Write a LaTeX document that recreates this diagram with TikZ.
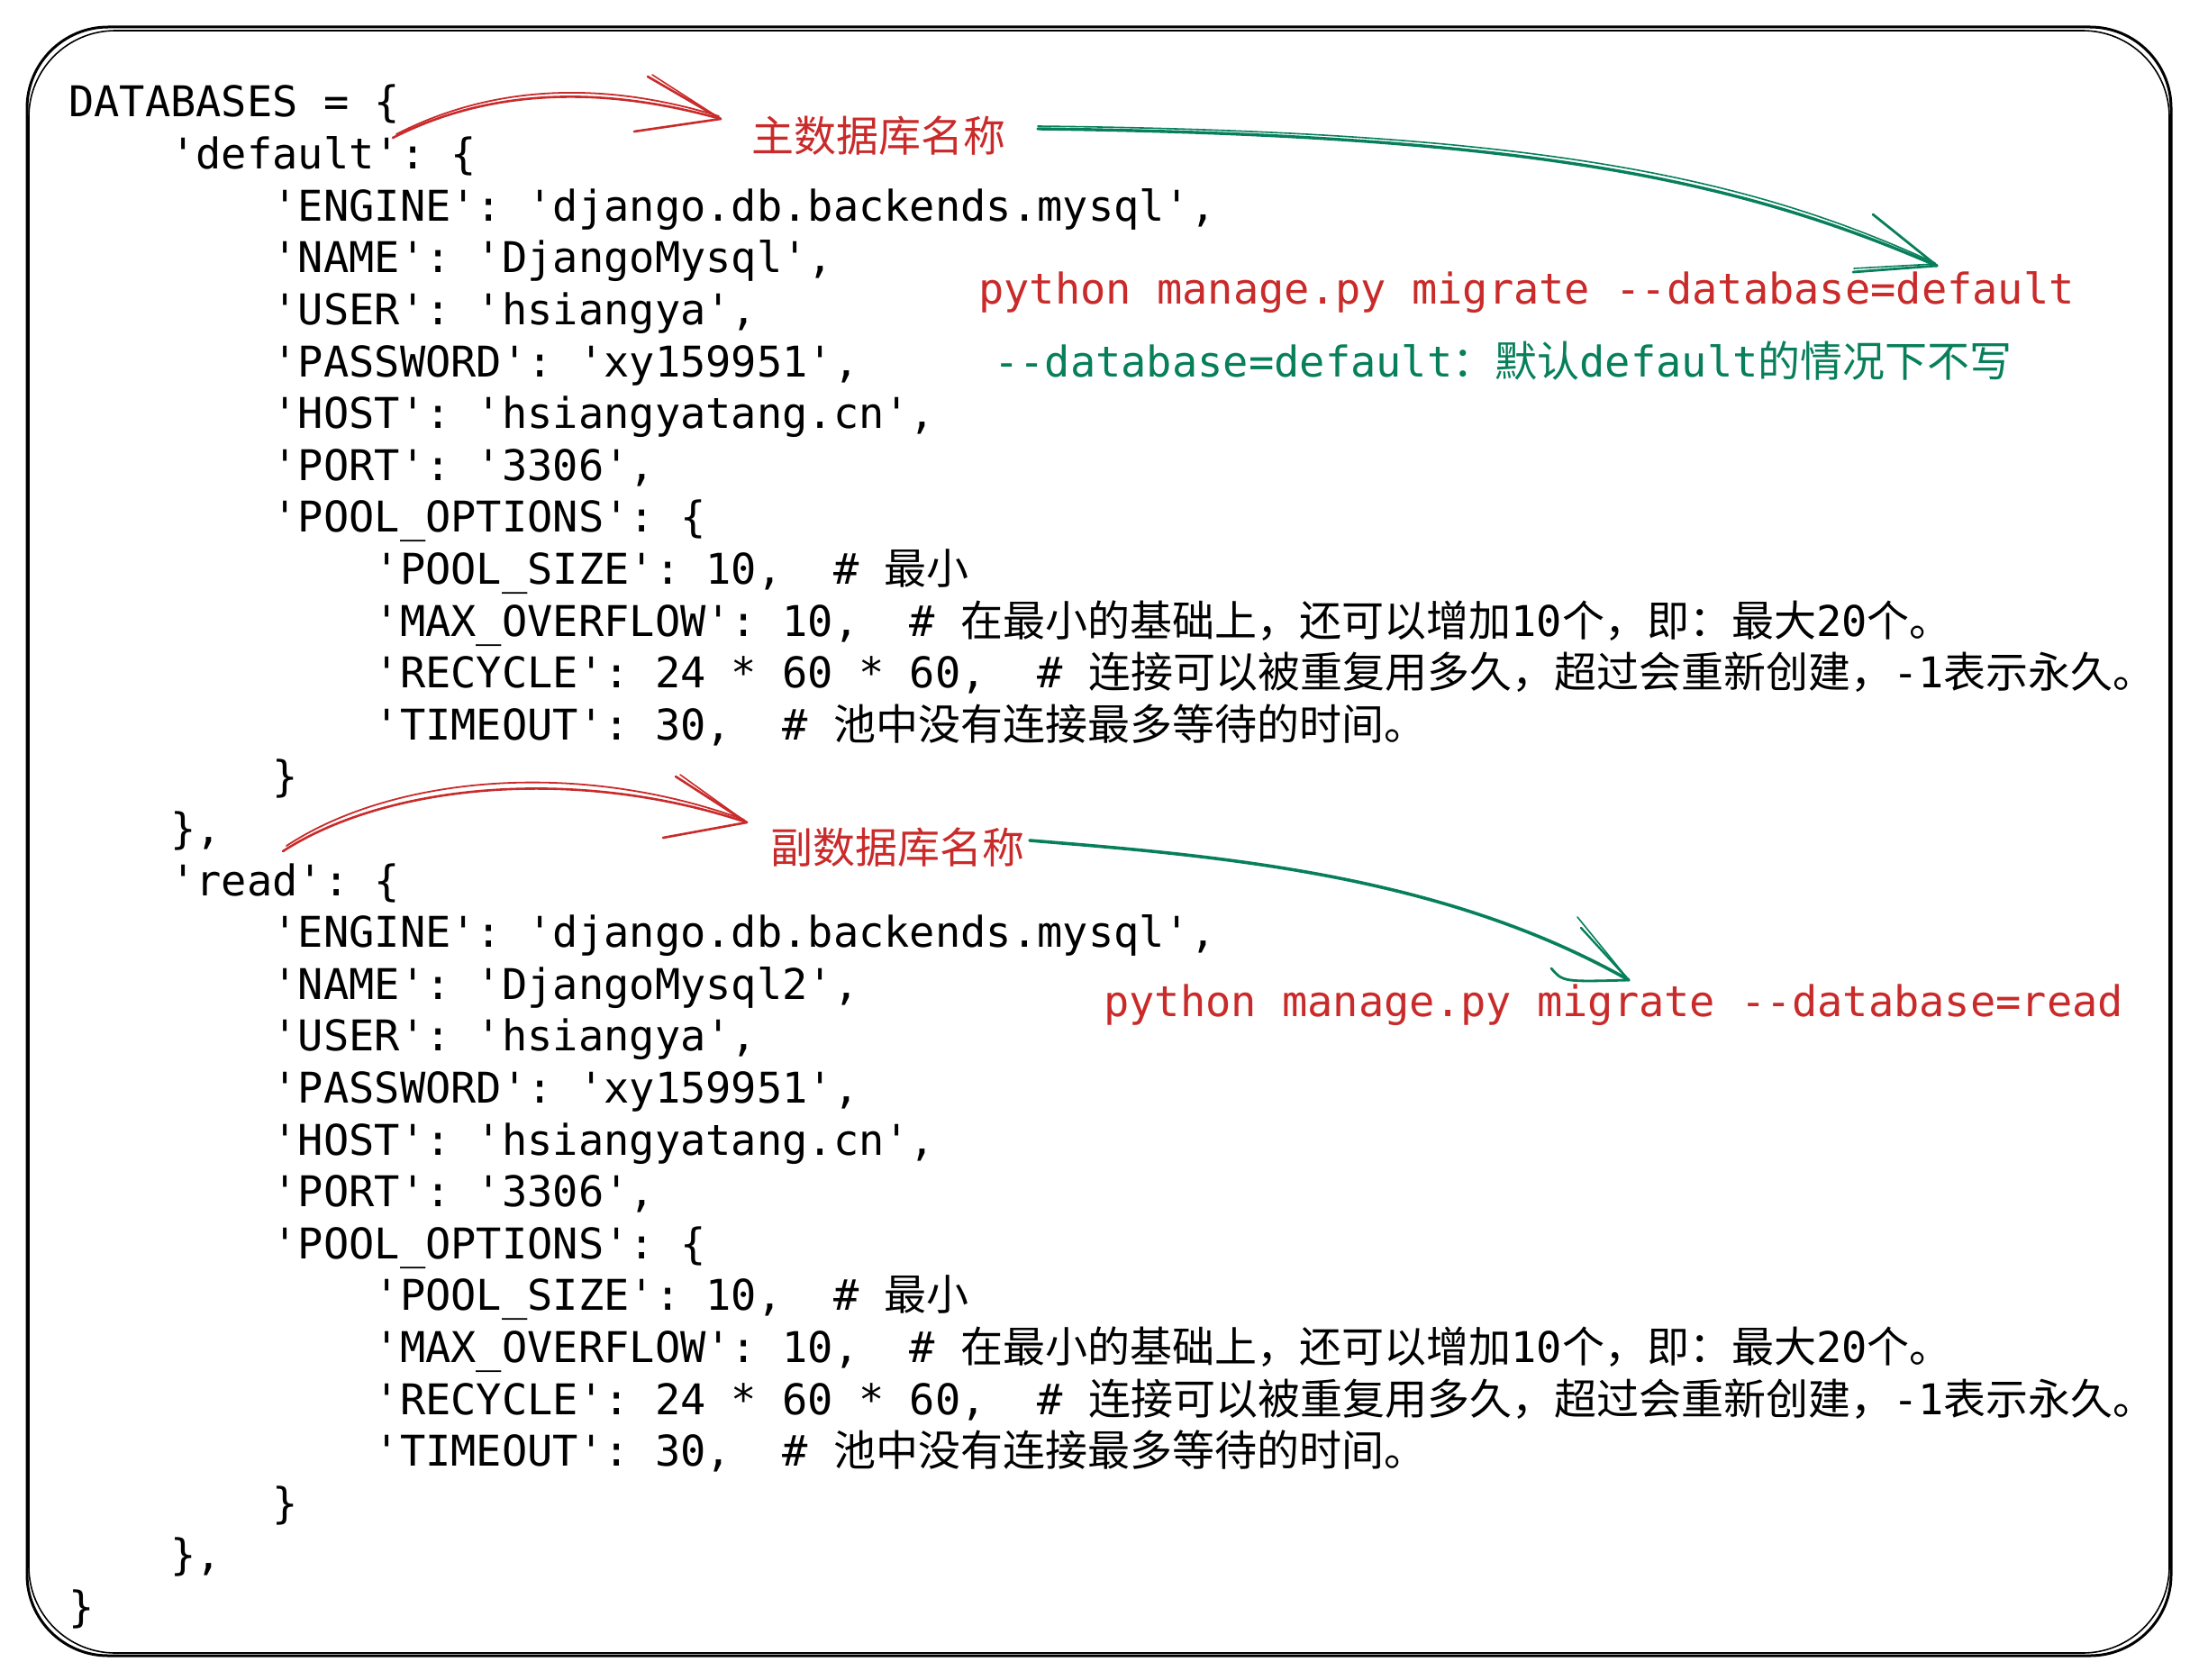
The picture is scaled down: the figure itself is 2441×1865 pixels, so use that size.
\documentclass[tikz,border=0pt]{standalone}
\usepackage{fontspec}
\setmonofont{DejaVu Sans Mono}
\newfontfamily\cjk{Noto Sans CJK SC}
\definecolor{myred}{HTML}{C92A2A}
\definecolor{mygreen}{HTML}{087F5B}
\frenchspacing
\begin{document}
\begin{tikzpicture}[x=1pt,y=-1pt,
  code/.style={anchor=base west, inner sep=0pt, font=\ttfamily\fontsize{47}{57.6}\selectfont, text=black},
  lab/.style={anchor=base west, inner sep=0pt, font=\fontsize{47}{57.6}\selectfont},
  redline/.style={draw=myred, line width=2.6pt, line cap=round, line join=round},
  greenline/.style={draw=mygreen, line width=2.8pt, line cap=round, line join=round},
  frameline/.style={draw=black, line width=3pt, rounded corners=90pt}]
\useasboundingbox (0,0) rectangle (2441,1865);
\fill[white] (0,0) rectangle (2441,1865);

% frame (sketchy double stroke)
\draw[frameline] (30,30) rectangle (2410,1838);
\draw[frameline, line width=1.6pt, rounded corners=96pt] (32,34) rectangle (2408,1835);

% code
\node[code] (l1) at (76,130) {DATABASES~=~\{};
\node[code] (l2) at (189.2,187.6) {'default':~\{};
\node[code] (l3) at (302.4,245.2) {'ENGINE':~'django.db.backends.mysql',};
\node[code] (l4) at (302.4,302.8) {'NAME':~'DjangoMysql',};
\node[code] (l5) at (302.4,360.4) {'USER':~'hsiangya',};
\node[code] (l6) at (302.4,418) {'PASSWORD':~'xy159951',};
\node[code] (l7) at (302.4,475.6) {'HOST':~'hsiangyatang.cn',};
\node[code] (l8) at (302.4,533.2) {'PORT':~'3306',};
\node[code] (l9) at (302.4,590.8) {'POOL\_OPTIONS':~\{};
\node[code] (l10) at (415.6,648.4) {'POOL\_SIZE':~10,~~\#~{\cjk 最小}};
\node[code] (l11) at (415.6,706) {'MAX\_OVERFLOW':~10,~~\#~{\cjk 在最小的基础上，还可以增加}10{\cjk 个，即：最大}20{\cjk 个。}};
\node[code] (l12) at (415.6,763.6) {'RECYCLE':~24~*~60~*~60,~~\#~{\cjk 连接可以被重复用多久，超过会重新创建，}-1{\cjk 表示永久。}};
\node[code] (l13) at (415.6,821.2) {'TIMEOUT':~30,~~\#~{\cjk 池中没有连接最多等待的时间。}};
\node[code] (l14) at (302.4,878.8) {\}};
\node[code] (l15) at (189.2,936.4) {\},};
\node[code] (l16) at (189.2,994) {'read':~\{};
\node[code] (l17) at (302.4,1051.6) {'ENGINE':~'django.db.backends.mysql',};
\node[code] (l18) at (302.4,1109.2) {'NAME':~'DjangoMysql2',};
\node[code] (l19) at (302.4,1166.8) {'USER':~'hsiangya',};
\node[code] (l20) at (302.4,1224.4) {'PASSWORD':~'xy159951',};
\node[code] (l21) at (302.4,1282) {'HOST':~'hsiangyatang.cn',};
\node[code] (l22) at (302.4,1339.6) {'PORT':~'3306',};
\node[code] (l23) at (302.4,1397.2) {'POOL\_OPTIONS':~\{};
\node[code] (l24) at (415.6,1454.8) {'POOL\_SIZE':~10,~~\#~{\cjk 最小}};
\node[code] (l25) at (415.6,1512.4) {'MAX\_OVERFLOW':~10,~~\#~{\cjk 在最小的基础上，还可以增加}10{\cjk 个，即：最大}20{\cjk 个。}};
\node[code] (l26) at (415.6,1570) {'RECYCLE':~24~*~60~*~60,~~\#~{\cjk 连接可以被重复用多久，超过会重新创建，}-1{\cjk 表示永久。}};
\node[code] (l27) at (415.6,1627.6) {'TIMEOUT':~30,~~\#~{\cjk 池中没有连接最多等待的时间。}};
\node[code] (l28) at (302.4,1685.2) {\}};
\node[code] (l29) at (189.2,1742.8) {\},};
\node[code] (l30) at (76,1800.4) {\}};

% annotations
\node[lab, text=myred] (zh1) at (834,168) {\cjk 主数据库名称};
\node[code, text=myred] (cmd1) at (1086,337) {python~manage.py~migrate~--database=default};
\node[code, text=mygreen] (note1) at (1103,418) {--database=default{\cjk ：默认}default{\cjk 的情况下不写}};
\node[lab, text=myred] (zh2) at (855,958) {\cjk 副数据库名称};
\node[code, text=myred] (cmd2) at (1225,1128) {python~manage.py~migrate~--database=read};

% connector end points
\coordinate (r1s) at (436,153);
\coordinate (r1e) at (800,132);
\coordinate (r2s) at (314,945);
\coordinate (r2e) at (829,913);
\coordinate (g1s) at (1152,143);
\coordinate (g1e) at (2150,295);
\coordinate (g2s) at (1143,933);
\coordinate (g2e) at (1808,1088);

% red arrow 1
\draw[redline] (r1s) .. controls (530,105) and (650,90) .. (r1e);
\draw[redline, line width=1.8pt] ([shift={(4,-4)}]r1s) .. controls (535,100) and (655,85) .. ([shift={(-2,-3)}]r1e);
\draw[redline] (719,85) -- (r1e);
\draw[redline, line width=1.6pt] (724,83) -- ([shift={(-3,-2)}]r1e);
\draw[redline] (704,146) -- (r1e);

% red arrow 2
\draw[redline] (r2s) .. controls (430,870) and (640,850) .. (r2e);
\draw[redline, line width=1.8pt] ([shift={(4,-6)}]r2s) .. controls (435,862) and (640,842) .. ([shift={(-3,-3)}]r2e);
\draw[redline] (750,862) -- (r2e);
\draw[redline, line width=1.6pt] (755,860) -- ([shift={(-3,-2)}]r2e);
\draw[redline] (736,930) -- (r2e);

% green arrow 1
\draw[greenline, line width=3.4pt] (g1s) .. controls (1700,150) and (1930,200) .. (g1e);
\draw[greenline, line width=1.6pt] ([shift={(0,-3)}]g1s) .. controls (1700,146) and (1935,194) .. ([shift={(-2,-3)}]g1e);
\draw[greenline] (2079,238) -- (g1e);
\draw[greenline] (2057,302) -- (g1e);
\draw[greenline, line width=1.6pt] (2058,298) -- ([shift={(-2,-2)}]g1e);

% green arrow 2
\draw[greenline, line width=3.6pt] (g2s) .. controls (1350,950) and (1600,970) .. (g2e);
\draw[greenline, line width=1.6pt] (1751,1018) -- (g2e);
\draw[greenline, line width=2.4pt] (1755,1030) -- (g2e);
\draw[greenline] (1722,1075) .. controls (1735,1090) .. (g2e);
\end{tikzpicture}
\end{document}
